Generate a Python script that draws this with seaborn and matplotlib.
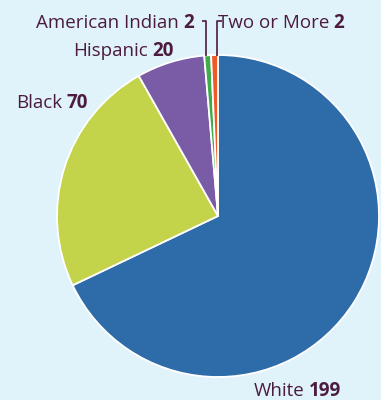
import matplotlib
matplotlib.use("Agg")
import matplotlib.pyplot as plt
import seaborn as sns

# Enrollment by race / ethnicity
groups = ["White", "Black", "Hispanic", "American Indian", "Two or More"]
counts = [199, 70, 20, 2, 2]
colors = ["#2e6ba9", "#c3d34a", "#7a5ba6", "#3fab4a", "#f05a28"]

BG = "#e0f2fa"
INK = "#4b1c40"
W, H = 381, 400

sns.set_theme(style="white")
plt.rcParams["font.family"] = ["Open Sans", "DejaVu Sans"]

fig = plt.figure(figsize=(W / 100, H / 100), dpi=100, facecolor=BG)
ax = fig.add_axes([0, 0, 1, 1])
ax.set_facecolor(BG)


def py(y):
    return H - y


ax.pie(counts, colors=colors, startangle=90, counterclock=False,
       center=(218, py(216)), radius=161, frame=True,
       wedgeprops=dict(edgecolor="white", linewidth=1.3))
ax.set_xlim(0, W)
ax.set_ylim(0, H)
ax.set_aspect("equal")
ax.axis("off")

fs = 13.5
# label name (regular) ends at split x; value (bold) starts just after
labels = {
    "American Indian": (179, 28),
    "Two or More": (329, 28),
    "Hispanic": (148, 56),
    "Black": (62, 108),
    "White": (304, 396),
}
for g, c in zip(groups, counts):
    xs, yb = labels[g]
    ax.text(xs, py(yb), g, ha="right", va="baseline", fontsize=fs, color=INK)
    ax.text(xs + 4.5, py(yb), str(c), ha="left", va="baseline", fontsize=fs,
            color=INK, fontweight="bold")

# leader lines for the two thin wedges
ax.plot([201.7, 205.7, 205.7], [py(20.7), py(20.7), py(56)], color=INK, lw=1.2,
        solid_capstyle="butt")
ax.plot([221.7, 216.7, 216.7], [py(20.7), py(20.7), py(56)], color=INK, lw=1.2,
        solid_capstyle="butt")

fig.savefig("out.png", dpi=100, facecolor=BG)
